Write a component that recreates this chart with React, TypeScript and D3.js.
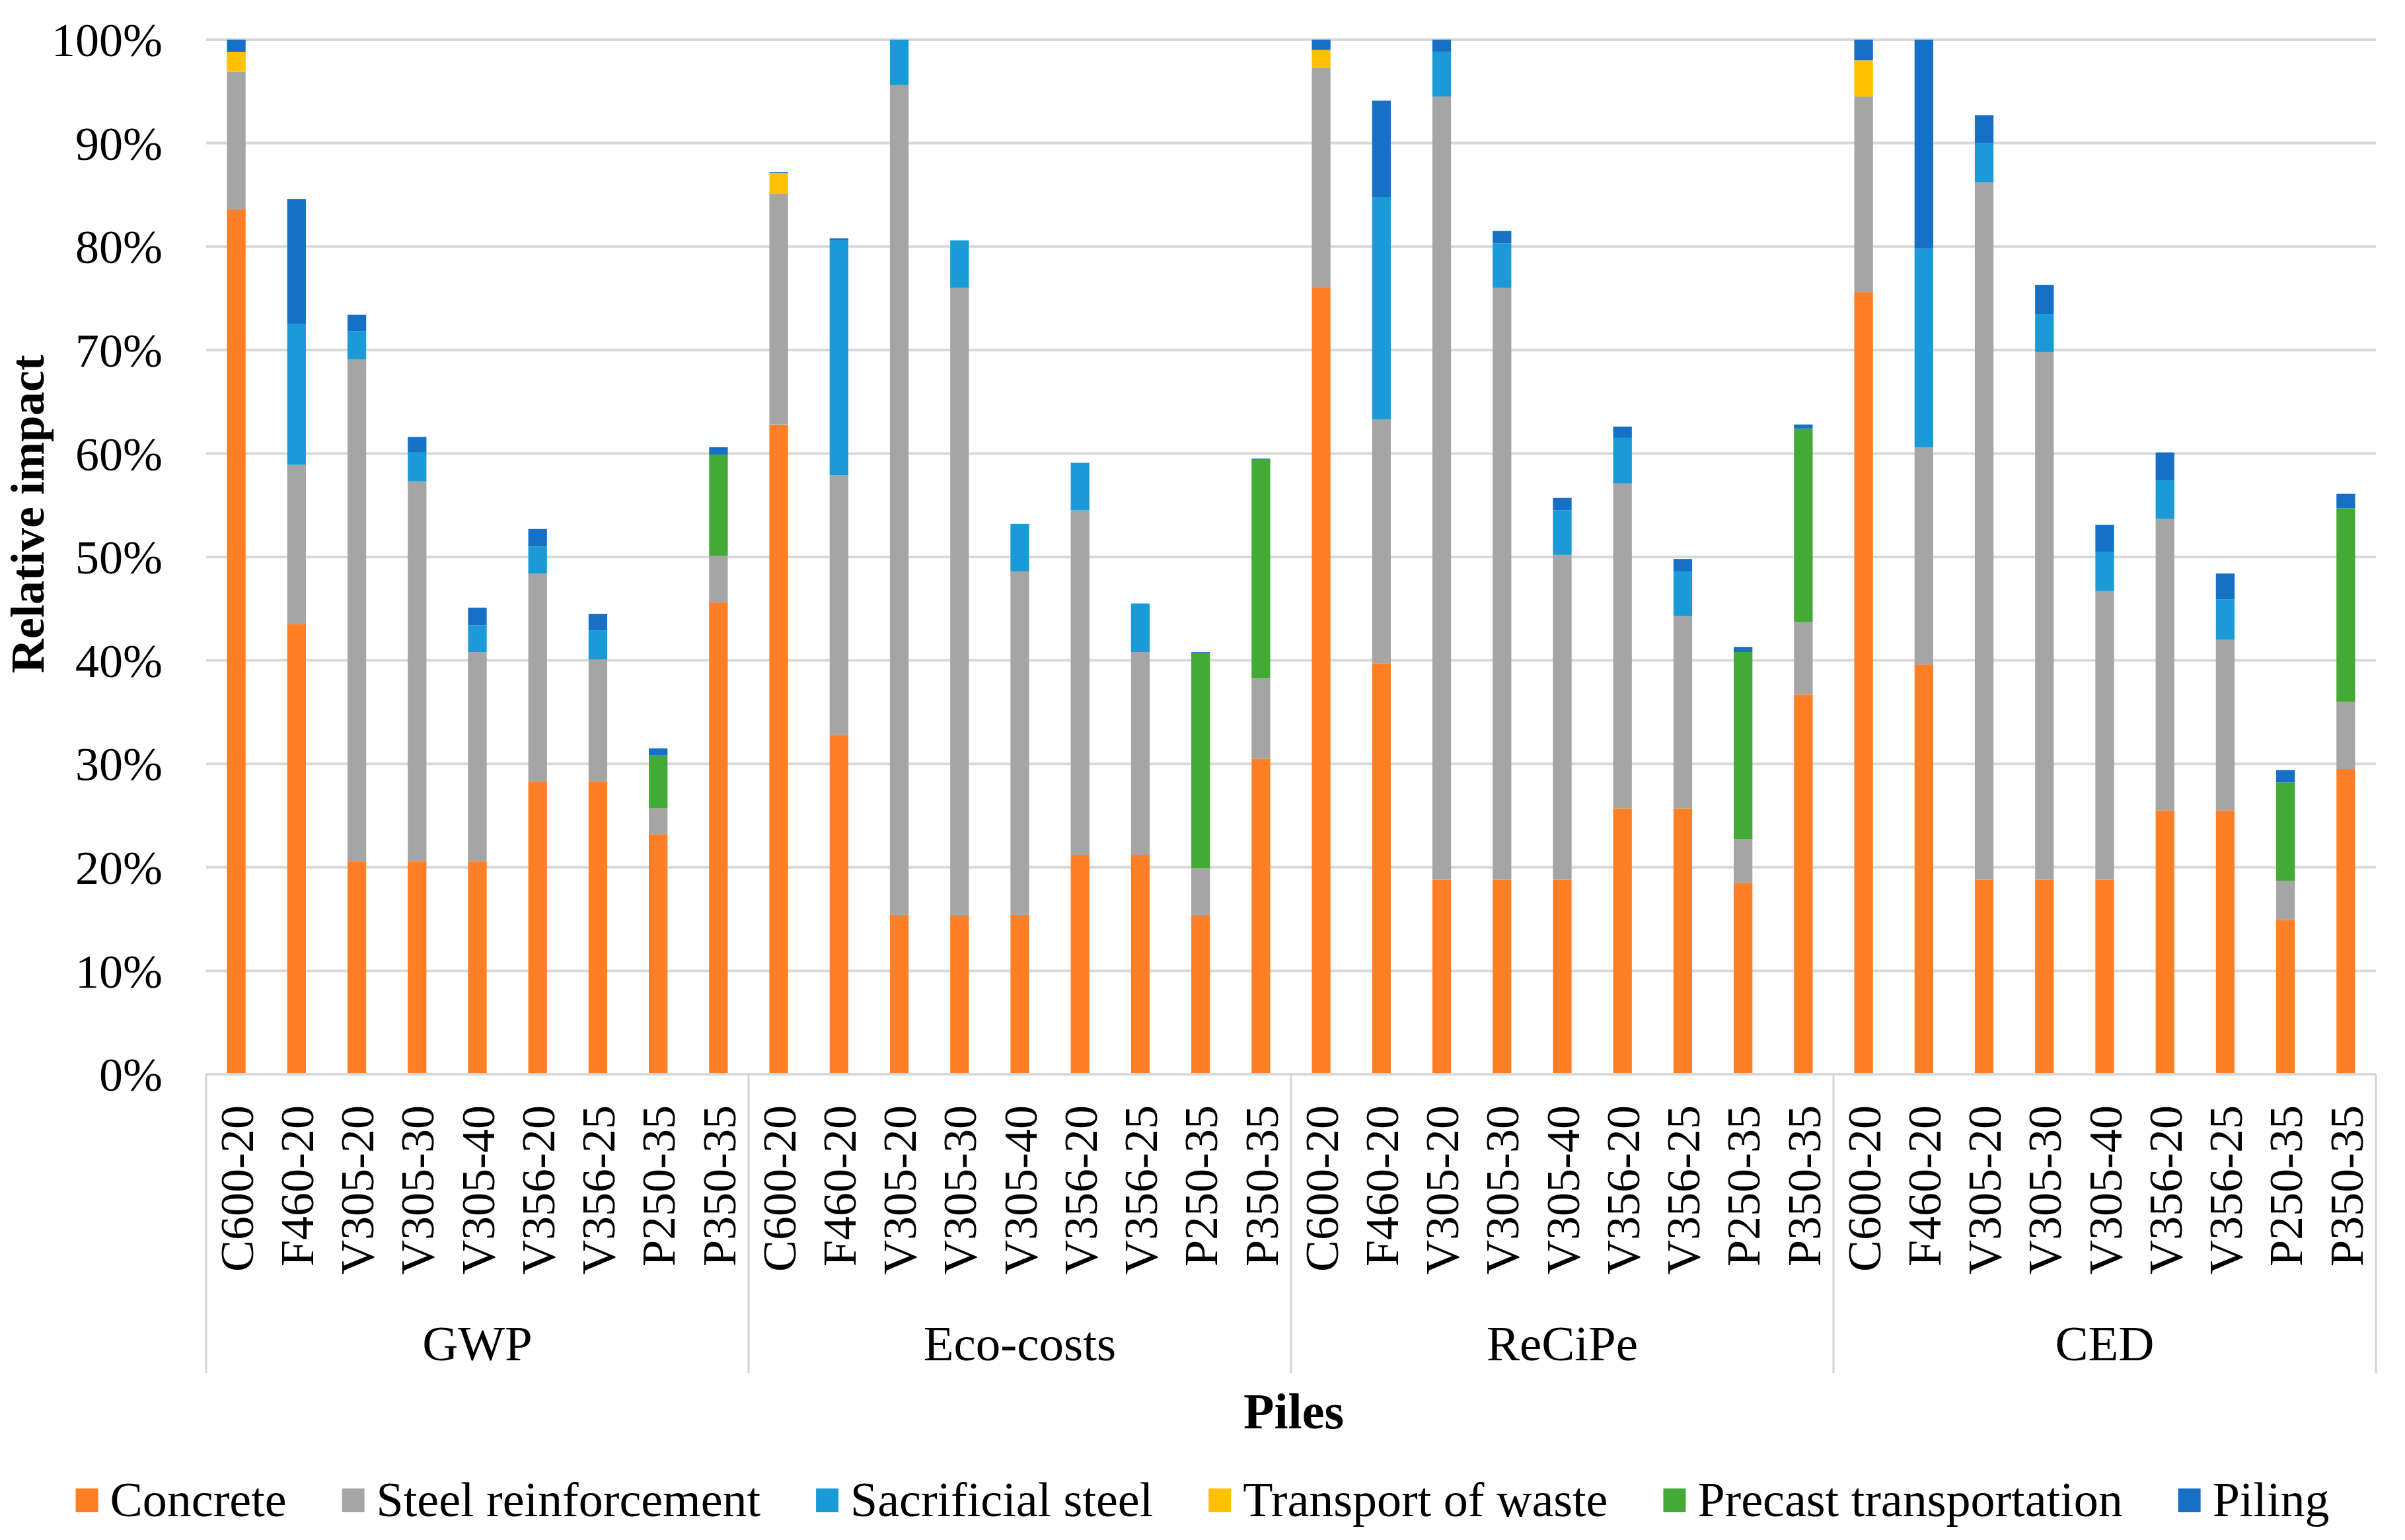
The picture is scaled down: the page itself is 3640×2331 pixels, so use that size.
import React, { useEffect, useMemo } from "react";
import * as d3 from "d3";

// impact categories and piles (same order in each group)
const groups = ["GWP", "Eco-costs", "ReCiPe", "CED"];
const piles = ["C600-20", "F460-20", "V305-20", "V305-30", "V305-40", "V356-20", "V356-25", "P250-35", "P350-35"];

const seriesNames = ["Concrete", "Steel reinforcement", "Sacrificial steel", "Transport of waste", "Precast transportation", "Piling"];
const seriesColors = ["#FF7F27", "#A5A5A5", "#1A9BD8", "#FFC000", "#43AA36", "#1570C6"];

// percent values, 36 bars (GWP, Eco-costs, ReCiPe, CED)
const concrete = [
  83.6, 43.5, 20.6, 20.6, 20.6, 28.3, 28.3, 23.2, 45.6,
  62.8, 32.8, 15.4, 15.4, 15.4, 21.2, 21.2, 15.4, 30.5,
  76.1, 39.7, 18.8, 18.8, 18.8, 25.7, 25.7, 18.5, 36.7,
  75.6, 39.6, 18.8, 18.8, 18.8, 25.5, 25.5, 14.9, 29.5,
];
const steel = [
  13.3, 15.4, 48.5, 36.7, 20.2, 20.1, 11.8, 2.5, 4.5,
  22.3, 25.1, 80.2, 60.6, 33.2, 33.3, 19.6, 4.5, 7.8,
  21.2, 23.6, 75.7, 57.2, 31.4, 31.4, 18.6, 4.2, 7.0,
  18.9, 21.0, 67.4, 51.0, 27.9, 28.2, 16.5, 3.8, 6.5,
];
const sacrificial = [
  0, 13.6, 2.7, 2.8, 2.6, 2.6, 2.8, 0, 0,
  0, 22.7, 4.4, 4.6, 4.6, 4.6, 4.7, 0, 0,
  0, 21.5, 4.3, 4.3, 4.3, 4.4, 4.3, 0, 0,
  0, 19.2, 3.8, 3.7, 3.8, 3.7, 3.9, 0, 0,
];
const transport = [
  1.9, 0, 0, 0, 0, 0, 0, 0, 0,
  2.0, 0, 0, 0, 0, 0, 0, 0, 0,
  1.7, 0, 0, 0, 0, 0, 0, 0, 0,
  3.5, 0, 0, 0, 0, 0, 0, 0, 0,
];
const precast = [
  0, 0, 0, 0, 0, 0, 0, 5.1, 9.8,
  0, 0, 0, 0, 0, 0, 0, 20.8, 21.1,
  0, 0, 0, 0, 0, 0, 0, 18.1, 18.7,
  0, 0, 0, 0, 0, 0, 0, 9.5, 18.7,
];
const piling = [
  1.2, 12.1, 1.6, 1.5, 1.7, 1.7, 1.6, 0.7, 0.7,
  0.1, 0.2, 0, 0, 0, 0, 0, 0.1, 0.1,
  1.0, 9.3, 1.2, 1.2, 1.2, 1.1, 1.2, 0.5, 0.4,
  2.0, 20.2, 2.7, 2.8, 2.6, 2.7, 2.5, 1.2, 1.4,
];
const seriesValues = [concrete, steel, sacrificial, transport, precast, piling];

const yTicks = [0, 10, 20, 30, 40, 50, 60, 70, 80, 90, 100];

const W = 3640;
const H = 2331;
const left = 312;
const right = 3596;
const top = 60;
const bottom = 1626;
const FONT = "'Liberation Serif', 'Times New Roman', serif";

export default function App() {
  useEffect(() => {
    document.body.style.margin = "0";
  }, []);

  const keys = groups.flatMap((g) => piles.map((p) => `${g}|${p}`));
  const rows = keys.map((k, i) => {
    const r: any = { key: k };
    seriesNames.forEach((s, j) => (r[s] = seriesValues[j][i]));
    return r;
  });

  const x = d3.scaleBand<string>().domain(keys).range([left, right]).paddingInner(0.69).paddingOuter(0.345);
  const y = d3.scaleLinear().domain([0, 100]).range([bottom, top]);
  const stacked = d3.stack().keys(seriesNames)(rows);
  const step = x.step();
  const groupW = (right - left) / groups.length;

  // legend flow layout, centred on the page
  const legend = useMemo(() => {
    const ctx = document.createElement("canvas").getContext("2d")!;
    ctx.font = `74px ${FONT}`;
    const sw = 34, gapText = 18, gapItem = 84;
    const widths = seriesNames.map((s) => ctx.measureText(s).width);
    const total = widths.reduce((a, w) => a + sw + gapText + w, 0) + gapItem * (seriesNames.length - 1);
    let cx = W / 2 - total / 2;
    return seriesNames.map((s, i) => {
      const item = { name: s, color: seriesColors[i], x: cx, tx: cx + sw + gapText, sw };
      cx += sw + gapText + widths[i] + gapItem;
      return item;
    });
  }, []);

  return (
    <svg width={W} height={H} style={{ display: "block", background: "#fff" }} fontFamily={FONT}>
      {/* gridlines */}
      {yTicks.map((t) => (
        <line key={t} x1={left} x2={right} y1={y(t)} y2={y(t)} stroke="#D9D9D9" strokeWidth={4} />
      ))}
      {yTicks.map((t) => (
        <text key={"l" + t} x={246} y={y(t)} dy="0.35em" textAnchor="end" fontSize={72} fill="#000">
          {t}%
        </text>
      ))}

      {/* bars */}
      {stacked.map((layer, j) => (
        <g key={layer.key} fill={seriesColors[j]}>
          {layer.map((d, i) =>
            d[1] - d[0] > 0 ? (
              <rect key={i} x={x(keys[i])} width={x.bandwidth()} y={y(d[1])} height={y(d[0]) - y(d[1])} />
            ) : null
          )}
        </g>
      ))}

      {/* category axis */}
      <line x1={left} x2={right} y1={bottom} y2={bottom} stroke="#D9D9D9" strokeWidth={4} />
      {d3.range(groups.length + 1).map((i) => (
        <line key={"s" + i} x1={left + i * groupW} x2={left + i * groupW} y1={bottom} y2={2078} stroke="#D4D4D4" strokeWidth={3} />
      ))}
      {keys.map((k) => (
        <text
          key={"t" + k}
          transform={`translate(${x(k)! + x.bandwidth() / 2},1673) rotate(-90)`}
          textAnchor="end"
          dy="0.35em"
          fontSize={72}
        >
          {k.split("|")[1]}
        </text>
      ))}
      {groups.map((g, i) => (
        <text key={g} x={left + (i + 0.5) * groupW} y={2059} textAnchor="middle" fontSize={75}>
          {g}
        </text>
      ))}

      {/* axis titles */}
      <text transform={`translate(66,778) rotate(-90)`} textAnchor="middle" fontSize={72} fontWeight="bold">
        Relative impact
      </text>
      <text x={1958} y={2162} textAnchor="middle" fontSize={76} fontWeight="bold">
        Piles
      </text>

      {/* legend */}
      {legend.map((it) => (
        <g key={it.name}>
          <rect x={it.x} y={2253} width={it.sw} height={36} fill={it.color} />
          <text x={it.tx} y={2295} fontSize={74}>
            {it.name}
          </text>
        </g>
      ))}
      {step > 0 ? null : null}
    </svg>
  );
}
